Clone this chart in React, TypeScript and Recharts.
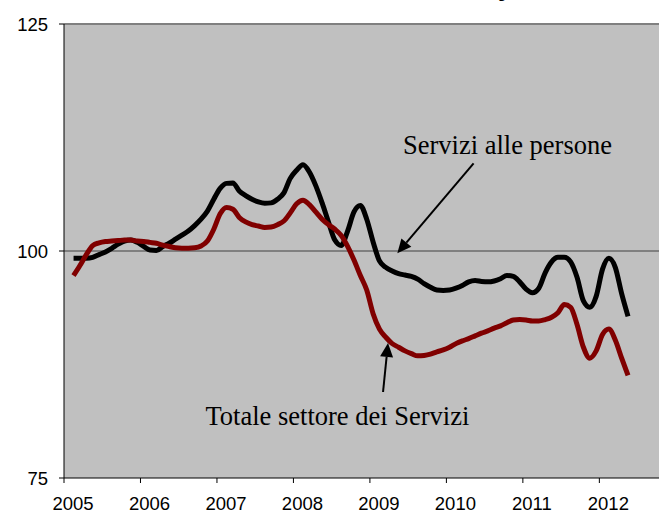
import { LineChart, Line, XAxis, YAxis, CartesianGrid, ReferenceLine } from 'recharts';

// monthly index numbers, Feb 2005 .. May 2012
const years = ['2005', '2006', '2007', '2008', '2009', '2010', '2011', '2012'];
const firstMonth = 1; // Feb 2005

const serviziPersone = [
  99.2, 99.2, 99.2, 99.3, 99.6, 99.9, 100.3, 100.75, 101.1, 101.2, 100.95, 100.5,
  100.1, 100.05, 100.5, 100.85, 101.3, 101.75, 102.2, 102.8, 103.5, 104.4, 105.7, 106.9,
  107.45, 107.5, 106.6, 106.1, 105.7, 105.4, 105.25, 105.3, 105.7, 106.4, 108.0, 108.9,
  109.5, 108.7, 107.2, 105.3, 103.2, 101.2, 100.6, 102.2, 104.3, 105.0, 103.5, 101.0,
  98.9, 98.2, 97.8, 97.5, 97.35, 97.2, 96.9, 96.4, 96.0, 95.7, 95.65, 95.7,
  95.9, 96.2, 96.6, 96.75, 96.65, 96.6, 96.7, 96.95, 97.3, 97.2, 96.6, 95.8,
  95.4, 95.9, 97.6, 98.8, 99.3, 99.3, 98.8, 97.1, 94.5, 93.8, 95.0, 98.0,
  99.2, 98.2, 95.3, 92.8,
];

const totaleServizi = [
  97.3, 98.4, 99.6, 100.6, 100.9, 101.05, 101.1, 101.15, 101.2, 101.2, 101.1, 101.05,
  100.95, 100.85, 100.65, 100.5, 100.35, 100.3, 100.3, 100.35, 100.55, 101.1, 102.4, 104.1,
  104.8, 104.6, 103.7, 103.2, 102.9, 102.75, 102.6, 102.65, 102.9, 103.3, 104.2, 105.2,
  105.6, 105.1, 104.3, 103.5, 102.9, 102.4, 101.7, 100.5, 99.0, 97.3, 95.7, 93.1,
  91.4, 90.5, 89.8, 89.4, 89.0, 88.7, 88.45, 88.5, 88.65, 88.9, 89.1, 89.4,
  89.8, 90.1, 90.35, 90.65, 90.95, 91.2, 91.5, 91.75, 92.1, 92.4, 92.45, 92.4,
  92.3, 92.3, 92.45, 92.7, 93.2, 94.1, 93.8, 91.9, 89.4, 88.2, 89.0, 90.8,
  91.4, 90.2, 88.2, 86.3,
];

const data = serviziPersone.map((v, k) => ({
  m: firstMonth + k + 0.5,
  persone: v,
  totale: totaleServizi[k],
}));

const XTick = ({ x, y, payload }: any) => (
  <text
    x={x + 9}
    y={y + 25}
    textAnchor="middle"
    fontFamily="'Liberation Sans', Arial, sans-serif"
    fontSize={18.5}
    fill="#000"
  >
    {years[Math.round(payload.value / 12)]}
  </text>
);

const YTick = ({ x, y, payload }: any) => (
  <text
    x={x - 9}
    y={y + 6.5}
    textAnchor="end"
    fontFamily="'Liberation Sans', Arial, sans-serif"
    fontSize={18.5}
    fill="#000"
  >
    {payload.value}
  </text>
);

const Arrow = ({ x1, y1, x2, y2, text, tdx, tdy }: any) => {
  const dx = x2 - x1;
  const dy = y2 - y1;
  const len = Math.sqrt(dx * dx + dy * dy);
  const ux = dx / len;
  const uy = dy / len;
  const hl = 14;
  const hw = 6.5;
  const bx = x2 - ux * hl;
  const by = y2 - uy * hl;
  return (
    <g>
      <line x1={x1} y1={y1} x2={bx} y2={by} stroke="#000" strokeWidth={2} />
      <polygon
        points={`${x2},${y2} ${bx - uy * hw},${by + ux * hw} ${bx + uy * hw},${by - ux * hw}`}
        fill="#000"
      />
      <text
        x={x1 + tdx}
        y={y1 + tdy}
        fontFamily="'Liberation Serif', 'Times New Roman', serif"
        fontSize={26.5}
        fill="#000"
      >
        {text}
      </text>
    </g>
  );
};

export default function App() {
  return (
    <div style={{ position: 'absolute', left: 0, top: 0, width: 659, height: 513, background: '#fff', overflow: 'hidden' }}>
      {/* tail of the title, cut off by the top edge */}
      <div
        style={{
          position: 'absolute',
          left: 498,
          top: -26,
          fontFamily: "'Liberation Sans', Arial, sans-serif",
          fontWeight: 'bold',
          fontSize: 26,
          lineHeight: '26px',
        }}
      >
        y
      </div>
      <LineChart width={659} height={513} data={data} margin={{ top: 24, right: 0, bottom: 0, left: 0 }}>
        <CartesianGrid fill="#C0C0C0" horizontal={false} vertical={false} />
        <ReferenceLine y={125} stroke="#808080" strokeWidth={2} />
        <ReferenceLine y={100} stroke="#404040" strokeWidth={1} />
        <XAxis
          type="number"
          dataKey="m"
          domain={[0, 93.36]}
          ticks={years.map((_, i) => i * 12)}
          allowDataOverflow
          height={35}
          tickSize={5}
          stroke="#000"
          tick={<XTick />}
        />
        <YAxis
          type="number"
          domain={[75, 125]}
          ticks={[75, 100, 125]}
          width={64}
          tickSize={5}
          stroke="#000"
          tick={<YTick />}
        />
        <Line
          type="monotone"
          dataKey="persone"
          stroke="#000"
          strokeWidth={5}
          dot={false}
          strokeLinejoin="round"
          isAnimationActive={false}
        />
        <Line
          type="monotone"
          dataKey="totale"
          stroke="#800000"
          strokeWidth={5}
          dot={false}
          strokeLinejoin="round"
          isAnimationActive={false}
        />
        <ReferenceLine
          segment={[
            { x: 64.27, y: 109.66 },
            { x: 52.3, y: 99.75 },
          ]}
          shape={<Arrow text="Servizi alle persone" tdx={-70.6} tdy={-9} />}
        />
        <ReferenceLine
          segment={[
            { x: 50.06, y: 84.47 },
            { x: 50.84, y: 89.87 },
          ]}
          shape={<Arrow text="Totale settore dei Servizi" tdx={-177.5} tdy={33} />}
        />
      </LineChart>
    </div>
  );
}
